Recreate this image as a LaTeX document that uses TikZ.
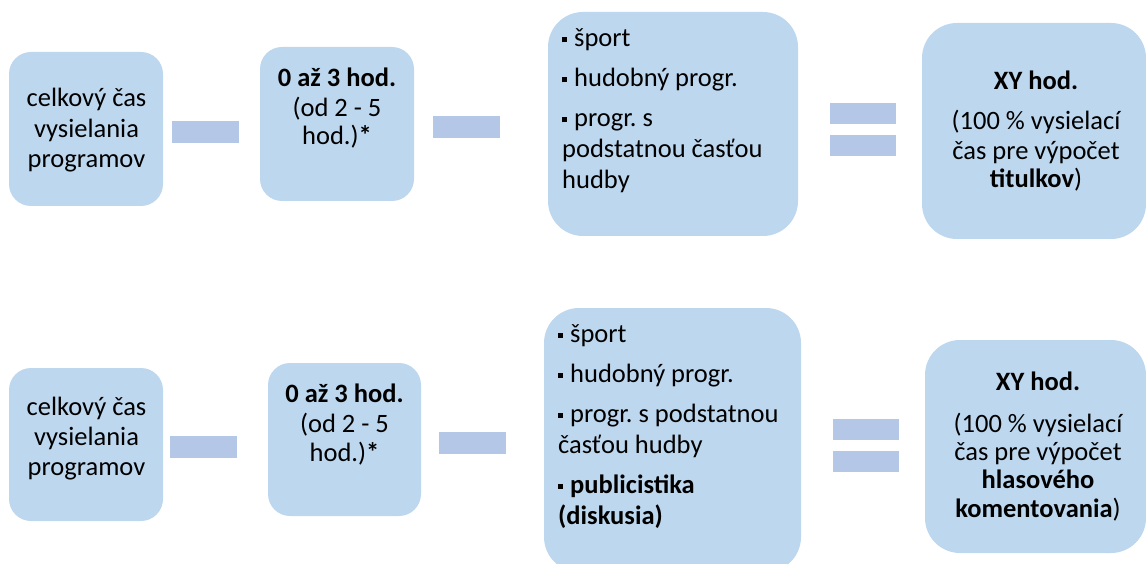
\documentclass[tikz,border=0pt]{standalone}
\usepackage{fontspec}
\setmainfont{Carlito}
\frenchspacing
\definecolor{boxblue}{HTML}{BDD7EE}
\definecolor{barblue}{HTML}{B4C7E7}
\newcommand\sqbul{\raisebox{4.5pt}{\rule{5pt}{5pt}}\hspace{7pt}}
\tikzset{
  box/.style={fill=boxblue, draw=none, rounded corners=22pt, inner sep=0pt},
  bigbox/.style={box, rounded corners=35pt},
  bar/.style={fill=barblue, draw=none, inner sep=0pt, minimum width=67pt, minimum height=22pt},
  txt/.style={inner sep=0pt, anchor=base, font=\fontsize{26.5pt}{31pt}\selectfont},
  ltxt/.style={txt, anchor=base west}
}
\begin{document}
\begin{tikzpicture}[x=1pt,y=-1pt]
\useasboundingbox (0,0) rectangle (1146,564);
\clip (0,0) rectangle (1146,564);
% ---------- row 1 ----------
\node[box, minimum width=154pt, minimum height=154pt] (A1) at (86,129) {};
\node[box, minimum width=154pt, minimum height=154pt] (B1) at (337,124) {};
\node[bigbox, minimum width=250pt, minimum height=224pt] (C1) at (673,124) {};
\node[bigbox, minimum width=224pt, minimum height=216pt] (D1) at (1034,131) {};
\node[bar] (m11) at (205.5,132) {};
\node[bar] (m12) at (466.5,127) {};
\node[bar, minimum width=66pt, minimum height=21pt] (e11) at (863,113.5) {};
\node[bar, minimum width=66pt, minimum height=21pt] (e12) at (863,145.5) {};
% text row 1
\node[txt] (a1t1) at (86.5,107) {celkový čas};
\node[txt] (a1t2) at (86.5,137.5) {vysielania};
\node[txt] (a1t3) at (86.5,168) {programov};
\node[txt] (b1t1) at (337,87) {\textbf{0 až 3 hod.}};
\node[txt] (b1t2) at (337,117) {(od 2 - 5};
\node[txt] (b1t3) at (337,145) {hod.)\textbf{*}};
\node[ltxt] (c1t1) at (562,47) {\sqbul šport};
\node[ltxt] (c1t2) at (562,87) {\sqbul hudobný progr.};
\node[ltxt] (c1t3) at (562,127) {\sqbul progr. s};
\node[ltxt] (c1t4) at (562,158) {podstatnou časťou};
\node[ltxt] (c1t5) at (562,189) {hudby};
\node[txt] (d1t1) at (1036,90) {\textbf{XY hod.}};
\node[txt] (d1t2) at (1036,130) {(100 \% vysielací};
\node[txt] (d1t3) at (1036,160) {čas pre výpočet};
\node[txt] (d1t4) at (1036,188) {\textbf{titulkov})};
% ---------- row 2 ----------
\node[box, minimum width=154pt, minimum height=153pt] (A2) at (86,444.5) {};
\node[box, minimum width=153pt, minimum height=153pt] (B2) at (344.5,439.5) {};
\node[bigbox, minimum width=257pt, minimum height=264pt] (C2) at (672.5,440) {};
\node[bigbox, minimum width=221pt, minimum height=213pt] (D2) at (1035.5,446.5) {};
\node[bar] (m21) at (203.5,446.5) {};
\node[bar] (m22) at (472.5,443) {};
\node[bar, minimum width=66pt, minimum height=21pt] (e21) at (866,429.5) {};
\node[bar, minimum width=66pt, minimum height=21pt] (e22) at (866,461.5) {};
% text row 2
\node[txt] (a2t1) at (86.5,415) {celkový čas};
\node[txt] (a2t2) at (86.5,445) {vysielania};
\node[txt] (a2t3) at (86.5,475) {programov};
\node[txt] (b2t1) at (344.5,402) {\textbf{0 až 3 hod.}};
\node[txt] (b2t2) at (344.5,432) {(od 2 - 5};
\node[txt] (b2t3) at (344.5,461) {hod.)\textbf{*}};
\node[ltxt] (c2t1) at (558,342) {\sqbul šport};
\node[ltxt] (c2t2) at (558,382) {\sqbul hudobný progr.};
\node[ltxt] (c2t3) at (558,422) {\sqbul progr. s podstatnou};
\node[ltxt] (c2t4) at (558,453) {časťou hudby};
\node[ltxt] (c2t5) at (558,493) {\sqbul \textbf{publicistika}};
\node[ltxt] (c2t6) at (558,524) {\textbf{(diskusia)}};
\node[txt] (d2t1) at (1038,390) {\textbf{XY hod.}};
\node[txt] (d2t2) at (1038,432) {(100 \% vysielací};
\node[txt] (d2t3) at (1038,460) {čas pre výpočet};
\node[txt] (d2t4) at (1038,488) {\textbf{hlasového}};
\node[txt] (d2t5) at (1038,517) {\textbf{komentovania})};
\end{tikzpicture}
\end{document}
